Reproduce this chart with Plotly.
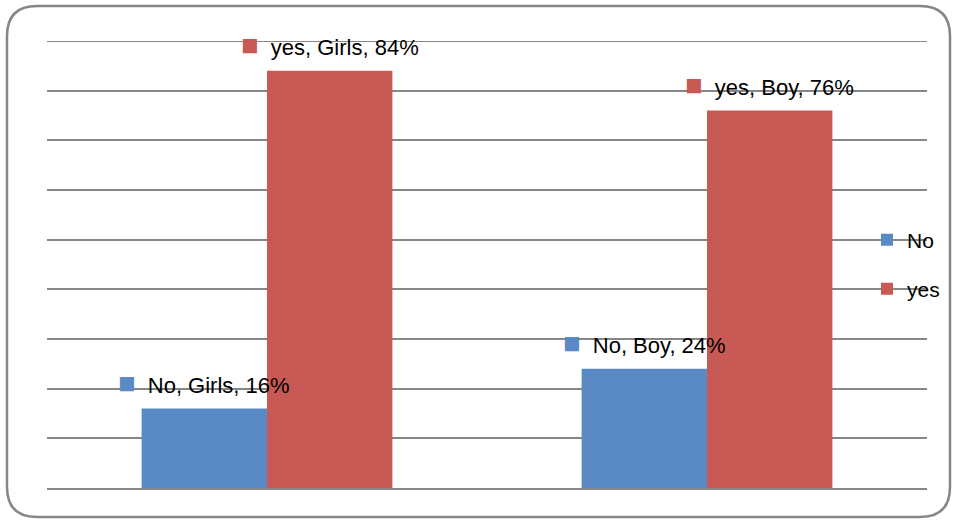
import plotly.graph_objects as go

categories = ["Girls", "Boy"]
series_names = ["No", "yes"]
no_values = [16, 24]
yes_values = [84, 76]

colors = {"No": "#598AC6", "yes": "#C85A55"}

W, H = 957, 521
ML, MR, MT, MB = 47, 30, 41, 33
PW, PH = W - ML - MR, H - MT - MB

fig = go.Figure()
fig.add_trace(go.Bar(x=categories, y=no_values, name="No", marker_color=colors["No"],
                     marker_line_width=0, legend="legend"))
fig.add_trace(go.Bar(x=categories, y=yes_values, name="yes", marker_color=colors["yes"],
                     marker_line_width=0, legend="legend2"))

bargap = 0.43
half = (1 - bargap) / 4
font = "Liberation Sans"
for si, (name, vals) in enumerate([("No", no_values), ("yes", yes_values)]):
    off = -half if si == 0 else half
    for ci, (cat, v) in enumerate(zip(categories, vals)):
        fig.add_annotation(
            x=ci + off, y=v, xref="x", yref="y", yshift=26, showarrow=False,
            text=(f'<span style="color:{colors[name]};font-size:29px">■</span>'
                  f'  {name}, {cat}, {v}%'),
            font=dict(family=font, size=22, color="#000000"),
        )

def px(X):
    return (X - ML) / PW
def py(Y):
    return (H - MB - Y) / PH

x0, x1, y0, y1, r = 7, 950, 6, 517, 30
path = (f"M {px(x0+r)},{py(y0)} L {px(x1-r)},{py(y0)} Q {px(x1)},{py(y0)} {px(x1)},{py(y0+r)} "
        f"L {px(x1)},{py(y1-r)} Q {px(x1)},{py(y1)} {px(x1-r)},{py(y1)} "
        f"L {px(x0+r)},{py(y1)} Q {px(x0)},{py(y1)} {px(x0)},{py(y1-r)} "
        f"L {px(x0)},{py(y0+r)} Q {px(x0)},{py(y0)} {px(x0+r)},{py(y0)} Z")
fig.add_shape(type="path", path=path, xref="paper", yref="paper",
              line=dict(color="#868686", width=2.5), layer="below")
# top gridline at the range edge
fig.add_shape(type="line", xref="paper", yref="y", x0=0, x1=1, y0=90, y1=90,
              line=dict(color="#868686", width=2), layer="below")

fig.update_layout(
    width=W, height=H, autosize=False,
    margin=dict(l=ML, r=MR, t=MT, b=MB, autoexpand=False),
    paper_bgcolor="white", plot_bgcolor="white",
    barmode="group", bargap=bargap, bargroupgap=0,
    font=dict(family=font, size=21, color="#000000"),
    showlegend=True,
    legend=dict(x=px(867), y=py(240), xanchor="left", yanchor="middle",
                bgcolor="rgba(0,0,0,0)", font=dict(size=21), itemwidth=30),
    legend2=dict(x=px(867), y=py(289), xanchor="left", yanchor="middle",
                 bgcolor="rgba(0,0,0,0)", font=dict(size=21), itemwidth=30),
    xaxis=dict(showticklabels=False, showgrid=False, showline=True, linecolor="#868686",
               linewidth=2, ticks=""),
    yaxis=dict(range=[0, 90], dtick=10, showticklabels=False, showgrid=True,
               gridcolor="#868686", gridwidth=2, zeroline=False, showline=False, ticks=""),
)

fig.write_html("out.html",
               config={"responsive": False, "displayModeBar": False},
               post_script="document.body.style.margin='0';document.body.style.padding='0';"
                           "document.body.style.overflow='hidden';")
